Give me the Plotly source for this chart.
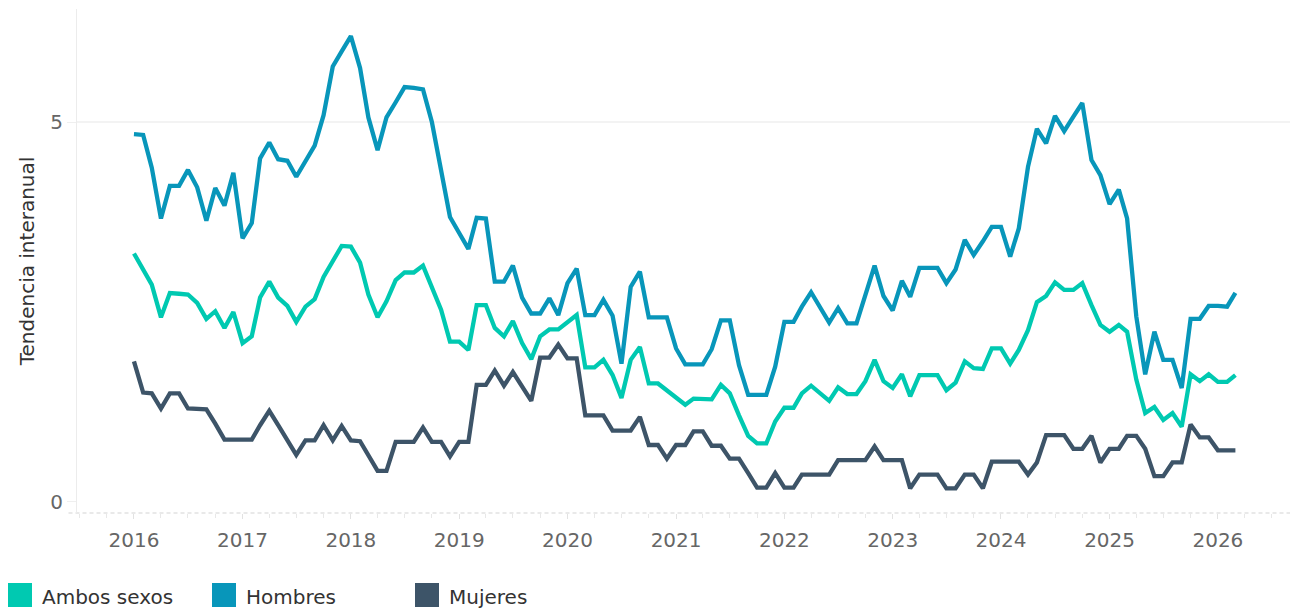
import pandas as pd
import plotly.graph_objects as go

# Monthly series, Jan 2016 - Mar 2026
meses = pd.date_range("2016-01-01", "2026-03-01", freq="MS")

ambos_sexos = [
    3.27, 3.07, 2.86, 2.43, 2.75, 2.74, 2.73, 2.62, 2.41, 2.51, 2.29, 2.50,
    2.09, 2.18, 2.69, 2.90, 2.69, 2.58, 2.37, 2.57, 2.67, 2.96, 3.17, 3.37,
    3.36, 3.15, 2.73, 2.43, 2.64, 2.92, 3.02, 3.02, 3.11, 2.81, 2.53, 2.11,
    2.11, 2.00, 2.59, 2.59, 2.29, 2.18, 2.38, 2.09, 1.88, 2.18, 2.27, 2.27,
    2.37, 2.46, 1.77, 1.77, 1.87, 1.67, 1.37, 1.87, 2.04, 1.56, 1.56, 1.47,
    1.39, 1.28, 1.36, 1.36, 1.35, 1.54, 1.43, 1.14, 0.87, 0.77, 0.77, 1.06,
    1.24, 1.24, 1.43, 1.53, 1.43, 1.33, 1.51, 1.42, 1.42, 1.59, 1.87, 1.59,
    1.50, 1.68, 1.39, 1.67, 1.67, 1.67, 1.47, 1.57, 1.85, 1.76, 1.75, 2.02,
    2.02, 1.82, 2.00, 2.26, 2.63, 2.71, 2.89, 2.79, 2.79, 2.88, 2.59, 2.33,
    2.24, 2.33, 2.24, 1.61, 1.17, 1.25, 1.08, 1.17, 0.99, 1.68, 1.59, 1.68,
    1.58, 1.58, 1.67,
]

hombres = [
    4.84, 4.83, 4.40, 3.73, 4.16, 4.16, 4.37, 4.14, 3.70, 4.13, 3.90, 4.33,
    3.47, 3.67, 4.52, 4.73, 4.51, 4.49, 4.28, 4.49, 4.69, 5.09, 5.73, 5.93,
    6.13, 5.71, 5.06, 4.63, 5.06, 5.26, 5.46, 5.45, 5.43, 5.00, 4.39, 3.75,
    3.54, 3.33, 3.74, 3.73, 2.90, 2.90, 3.11, 2.69, 2.48, 2.48, 2.68, 2.46,
    2.88, 3.07, 2.46, 2.46, 2.66, 2.45, 1.82, 2.83, 3.03, 2.43, 2.43, 2.43,
    2.02, 1.81, 1.81, 1.81, 2.01, 2.39, 2.39, 1.80, 1.41, 1.41, 1.41, 1.78,
    2.37, 2.37, 2.57, 2.76, 2.56, 2.36, 2.55, 2.35, 2.35, 2.72, 3.11, 2.71,
    2.52, 2.91, 2.70, 3.08, 3.08, 3.08, 2.88, 3.06, 3.45, 3.25, 3.43, 3.62,
    3.62, 3.23, 3.60, 4.41, 4.91, 4.72, 5.08, 4.88, 5.07, 5.25, 4.50, 4.30,
    3.92, 4.11, 3.73, 2.44, 1.68, 2.24, 1.87, 1.87, 1.50, 2.41, 2.41, 2.58,
    2.58, 2.57, 2.75,
]

mujeres = [
    1.85, 1.44, 1.43, 1.23, 1.43, 1.43, 1.23, 1.22, 1.22, 1.03, 0.82, 0.82,
    0.82, 0.82, 1.01, 1.20, 1.01, 0.82, 0.62, 0.81, 0.81, 1.01, 0.81, 1.00,
    0.81, 0.80, 0.61, 0.41, 0.41, 0.79, 0.79, 0.79, 0.98, 0.79, 0.79, 0.60,
    0.79, 0.79, 1.54, 1.54, 1.73, 1.53, 1.71, 1.52, 1.33, 1.90, 1.90, 2.07,
    1.89, 1.89, 1.14, 1.14, 1.14, 0.94, 0.94, 0.94, 1.12, 0.75, 0.75, 0.57,
    0.75, 0.75, 0.93, 0.93, 0.74, 0.74, 0.57, 0.57, 0.38, 0.19, 0.19, 0.38,
    0.19, 0.19, 0.36, 0.36, 0.36, 0.36, 0.55, 0.55, 0.55, 0.55, 0.73, 0.55,
    0.55, 0.55, 0.18, 0.36, 0.36, 0.36, 0.18, 0.18, 0.36, 0.36, 0.18, 0.53,
    0.53, 0.53, 0.53, 0.36, 0.52, 0.88, 0.88, 0.88, 0.70, 0.70, 0.87, 0.52,
    0.70, 0.70, 0.87, 0.87, 0.70, 0.34, 0.34, 0.52, 0.52, 1.02, 0.85, 0.85,
    0.68, 0.68, 0.68,
]

series_nombres = ["Ambos sexos", "Hombres", "Mujeres"]
series_valores = [ambos_sexos, hombres, mujeres]
series_colores = ["#00C9B1", "#0896BA", "#3D5468"]

FONT = "DejaVu Sans"

fig = go.Figure()
for nombre, valores, color in zip(series_nombres, series_valores, series_colores):
    fig.add_trace(go.Scatter(
        x=meses, y=valores, name=nombre, mode="lines",
        line=dict(color=color, width=4.3),
        showlegend=False,
    ))

# y = 5 gridline (no line at 0)
fig.add_shape(type="line", xref="paper", yref="y", x0=0, x1=1, y0=5, y1=5,
              line=dict(color="#efefef", width=1.5), layer="below")
# bottom axis line, faint dashes
fig.add_shape(type="line", xref="paper", yref="paper", x0=-0.007, x1=1, y0=0, y1=0,
              line=dict(color="#e2e2e2", width=1.5, dash="4px,3px"), layer="below")

# custom legend: square swatches + labels
leg_x = [8, 212, 415]
W, H = 1294, 611
ml, mr, mt, mb = 77, 4, 9, 98
pw, ph = W - ml - mr, H - mt - mb
for nombre, color, lx in zip(series_nombres, series_colores, leg_x):
    x0 = (lx - ml) / pw
    x1 = (lx + 24 - ml) / pw
    y0 = -(583 - (H - mb)) / ph
    y1 = -(607 - (H - mb)) / ph
    fig.add_shape(type="rect", xref="paper", yref="paper",
                  x0=x0, x1=x1, y0=y1, y1=y0,
                  fillcolor=color, line=dict(width=0))
    fig.add_annotation(xref="paper", yref="paper",
                       x=(lx + 32 - ml) / pw, y=-(597 - (H - mb)) / ph,
                       text=nombre, showarrow=False, xanchor="left", yanchor="middle",
                       font=dict(family=FONT, size=20, color="#333333"))

fig.update_layout(
    width=W, height=H,
    margin=dict(l=ml, r=mr, t=mt, b=mb, pad=0),
    paper_bgcolor="white", plot_bgcolor="white",
    font=dict(family=FONT, size=20, color="#666666"),
    xaxis=dict(
        type="date",
        range=["2015-06-23", "2026-09-01"],
        dtick="M12", tick0="2016-01-01", tickformat="%Y",
        showgrid=False, zeroline=False, showline=False,
        ticks="outside", ticklen=5, tickcolor="#e2e2e2", tickwidth=1,
        ticklabelstandoff=4,
        minor=dict(dtick="M3", tick0="2016-01-01", ticks="outside", ticklen=4,
                   tickcolor="#e8e8e8", showgrid=False),
        tickfont=dict(family=FONT, size=20, color="#666666"),
    ),
    yaxis=dict(
        range=[-0.145, 6.487],
        tickvals=[0, 5],
        showgrid=False, zeroline=False,
        showline=True, linecolor="#ececec", linewidth=1,
        ticks="outside", ticklen=9, tickcolor="#efefef",
        tickfont=dict(family=FONT, size=20, color="#666666"),
        title=dict(text="Tendencia interanual", standoff=10,
                   font=dict(family=FONT, size=20, color="#333333")),
    ),
)

fig.write_html("out.html")
